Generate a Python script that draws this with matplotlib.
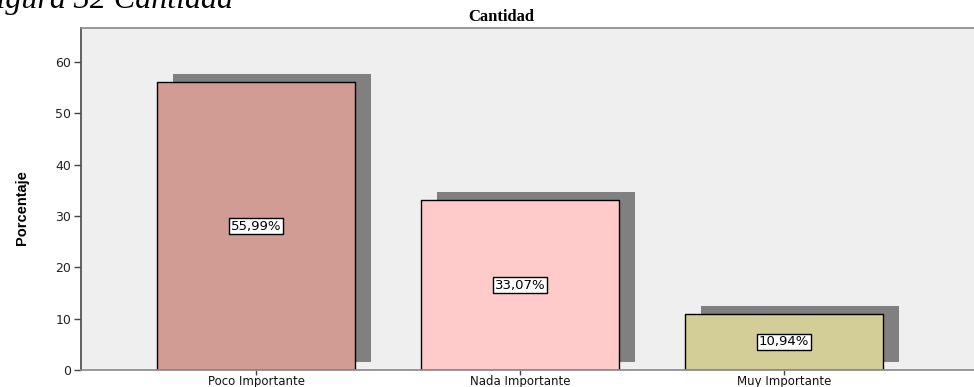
import matplotlib
matplotlib.use("Agg")
import matplotlib.pyplot as plt
from matplotlib.transforms import ScaledTranslation

categories = ["Poco Importante", "Nada Importante", "Muy Importante"]
percentages = [55.99, 33.07, 10.94]
value_labels = ["55,99%", "33,07%", "10,94%"]
bar_colors = ["#d09c94", "#fecaca", "#d3cd98"]
yticks = [0, 10, 20, 30, 40, 50, 60]

W, H = 974, 387
fig = plt.figure(figsize=(W / 100, H / 100), dpi=100)
fig.patch.set_facecolor("white")

# plot area in pixel terms: left 81, top 28, bottom 370, running past the right edge
left, top, bottom, right = 81, 28, 370, 985
ax = fig.add_axes([left / W, (H - bottom) / H, (right - left) / W, (bottom - top) / H])
ax.set_facecolor("#efefef")

x = list(range(len(categories)))
width = 0.75

# drop shadow: same bars shifted right and up
shadow = ScaledTranslation(0.16, 0.08, fig.dpi_scale_trans)
ax.bar(x, percentages, width=width, color="#808080", linewidth=0,
       transform=ax.transData + shadow, zorder=1)
ax.bar(x, percentages, width=width, color=bar_colors, edgecolor="black",
       linewidth=1.0, zorder=2)

for xi, v, lab in zip(x, percentages, value_labels):
    ax.text(xi, v / 2, lab, ha="center", va="center", fontsize=9.5,
            family="DejaVu Sans", zorder=3,
            bbox=dict(boxstyle="square,pad=0.12", facecolor="white",
                      edgecolor="black", linewidth=1.0))

ax.set_xlim(-0.663, (right - 256) / 264)
ax.set_ylim(0, 66.6)
ax.set_yticks(yticks)
ax.set_yticklabels([str(t) for t in yticks], fontsize=9, color="#222222")
ax.set_xticks(x)
ax.set_xticklabels(categories, fontsize=8.5, color="#111111")
ax.tick_params(axis="y", direction="out", length=5, width=1, color="#444444", pad=2)
ax.tick_params(axis="x", direction="out", length=3.5, width=1, color="#444444", pad=0)

ax.spines["left"].set_color("#555555")
ax.spines["left"].set_linewidth(1.3)
ax.spines["top"].set_color("#888888")
ax.spines["top"].set_linewidth(1.2)
ax.spines["bottom"].set_color("#888888")
ax.spines["bottom"].set_linewidth(1.2)
ax.spines["right"].set_visible(False)

fig.text(22 / W, (H - 208) / H, "Porcentaje", rotation=90, ha="center", va="center",
         fontsize=10.5, fontweight="bold",
         family=["Liberation Sans Narrow", "Liberation Sans", "DejaVu Sans"])

fig.text(501 / W, (H - 17) / H, "Cantidad", ha="center", va="center",
         fontsize=12, fontweight="bold", family="Liberation Serif")

fig.text(233 / W, (H - 8) / H, "Figura 32 Cantidad", ha="right", va="baseline",
         fontsize=23, style="italic", family="Liberation Serif")

fig.savefig("out.png", dpi=100)
